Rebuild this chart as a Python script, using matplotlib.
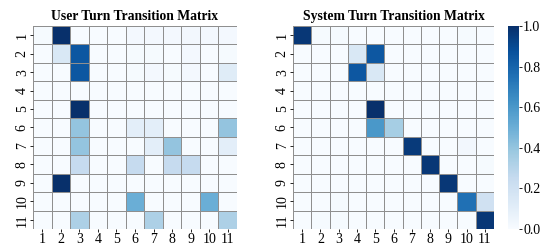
import numpy as np
import matplotlib
matplotlib.use("Agg")
import matplotlib.pyplot as plt
import seaborn as sns

labels = [str(i) for i in range(1, 12)]

user_matrix = [
    [0.01, 1.00, 0.00, 0.00, 0.00, 0.02, 0.02, 0.02, 0.03, 0.02, 0.02],
    [0.00, 0.15, 0.85, 0.00, 0.00, 0.01, 0.01, 0.00, 0.02, 0.00, 0.01],
    [0.00, 0.00, 0.85, 0.00, 0.00, 0.01, 0.02, 0.01, 0.02, 0.00, 0.12],
    [0.00, 0.00, 0.00, 0.00, 0.00, 0.00, 0.00, 0.00, 0.00, 0.00, 0.00],
    [0.00, 0.00, 1.00, 0.00, 0.00, 0.00, 0.00, 0.00, 0.00, 0.00, 0.00],
    [0.00, 0.00, 0.40, 0.00, 0.00, 0.10, 0.10, 0.00, 0.00, 0.00, 0.40],
    [0.00, 0.00, 0.40, 0.00, 0.00, 0.00, 0.10, 0.40, 0.00, 0.00, 0.10],
    [0.00, 0.00, 0.25, 0.00, 0.00, 0.25, 0.00, 0.25, 0.25, 0.00, 0.00],
    [0.00, 1.00, 0.00, 0.00, 0.00, 0.00, 0.00, 0.00, 0.00, 0.00, 0.00],
    [0.00, 0.00, 0.00, 0.00, 0.00, 0.50, 0.00, 0.00, 0.00, 0.50, 0.00],
    [0.00, 0.00, 0.33, 0.00, 0.00, 0.00, 0.33, 0.00, 0.00, 0.00, 0.33],
]

system_matrix = [
    [0.97, 0.01, 0.01, 0.00, 0.00, 0.00, 0.00, 0.00, 0.00, 0.01, 0.00],
    [0.00, 0.00, 0.00, 0.15, 0.85, 0.00, 0.00, 0.00, 0.00, 0.00, 0.00],
    [0.00, 0.00, 0.00, 0.85, 0.15, 0.00, 0.00, 0.00, 0.00, 0.00, 0.00],
    [0.00, 0.00, 0.00, 0.00, 0.00, 0.00, 0.00, 0.00, 0.00, 0.00, 0.00],
    [0.00, 0.00, 0.00, 0.00, 1.00, 0.00, 0.00, 0.00, 0.00, 0.00, 0.00],
    [0.00, 0.00, 0.00, 0.00, 0.60, 0.35, 0.00, 0.00, 0.00, 0.00, 0.00],
    [0.00, 0.00, 0.00, 0.00, 0.00, 0.00, 0.96, 0.00, 0.00, 0.03, 0.00],
    [0.00, 0.00, 0.00, 0.00, 0.00, 0.00, 0.00, 0.97, 0.00, 0.00, 0.01],
    [0.00, 0.00, 0.00, 0.00, 0.00, 0.00, 0.00, 0.00, 0.97, 0.00, 0.00],
    [0.00, 0.00, 0.01, 0.00, 0.00, 0.00, 0.00, 0.00, 0.00, 0.75, 0.20],
    [0.00, 0.01, 0.01, 0.00, 0.00, 0.00, 0.00, 0.00, 0.00, 0.00, 0.97],
]

titles = ["User Turn Transition Matrix", "System Turn Transition Matrix"]

plt.rcParams['font.family'] = ['Liberation Serif', 'DejaVu Serif']

W, H = 541, 245
fig = plt.figure(figsize=(W / 100, H / 100), dpi=100)

def rect(x0, y0, x1, y1):
    return [x0 / W, 1 - y1 / H, (x1 - x0) / W, (y1 - y0) / H]

ax1 = fig.add_axes(rect(33, 26, 237, 229))
ax2 = fig.add_axes(rect(293, 26, 494, 229))
cax = fig.add_axes(rect(508, 26, 519, 229))

for ax, mat, title, cb in [(ax1, user_matrix, titles[0], False),
                            (ax2, system_matrix, titles[1], True)]:
    sns.heatmap(np.array(mat), ax=ax, cmap="Blues", vmin=0, vmax=1,
                linewidths=0.55, linecolor="#8f8f8f",
                xticklabels=labels, yticklabels=labels,
                cbar=cb, cbar_ax=cax if cb else None)
    ax.set_title(title, fontsize=9.8, fontweight="bold", pad=4)
    ax.tick_params(axis="both", labelsize=10, length=2, width=0.6, pad=1)
    ax.set_xticklabels(labels, rotation=0)
    ax.set_yticklabels(labels, rotation=90, va="center")
    for s in ax.spines.values():
        s.set_visible(False)

cax.tick_params(labelsize=10, length=2, width=0.6, pad=1)
cax.set_yticks([0, 0.2, 0.4, 0.6, 0.8, 1.0])
cax.set_yticklabels(["0.0", "0.2", "0.4", "0.6", "0.8", "1.0"])
for s in cax.spines.values():
    s.set_visible(False)

fig.savefig("out.png", dpi=100)
